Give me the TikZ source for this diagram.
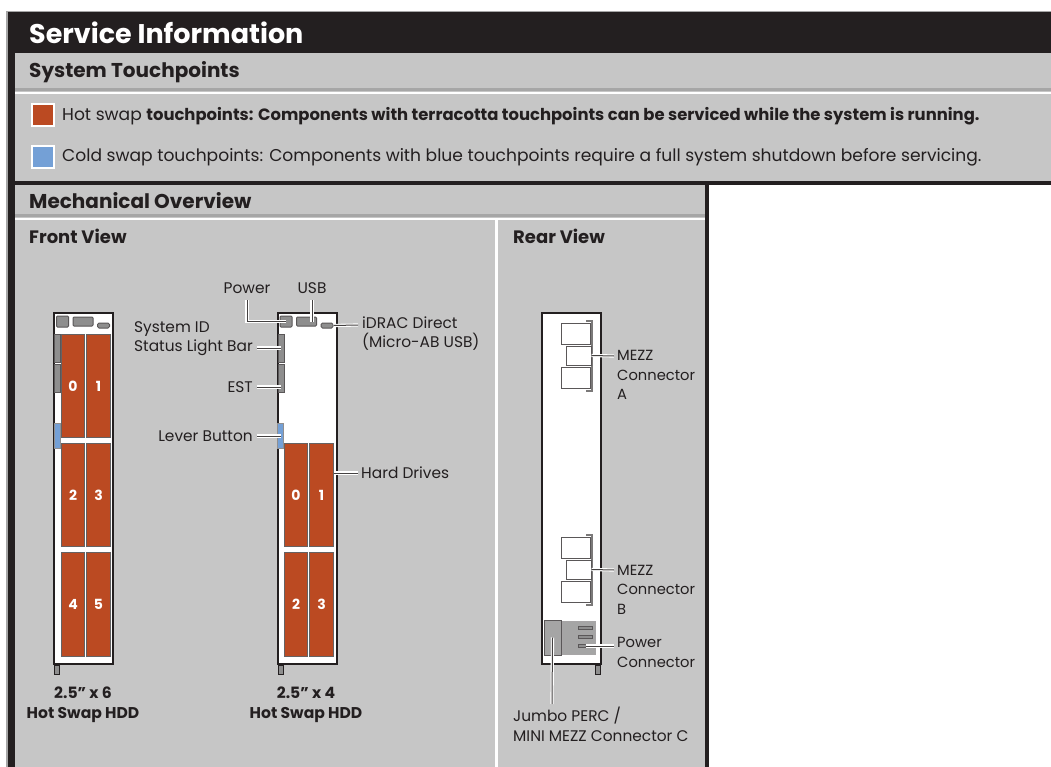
\documentclass[tikz,border=0pt]{standalone}
\usepackage{fontspec}
\setmainfont{Poppins}
\usetikzlibrary{positioning}
\definecolor{cpanel}{HTML}{C6C6C6}
\definecolor{crule}{HTML}{A6A6A6}
\definecolor{cink}{HTML}{231F20}
\definecolor{cterra}{HTML}{BB4A22}
\definecolor{cblue}{HTML}{74A0D6}
\definecolor{cpart}{HTML}{8E8E8E}
\tikzset{
  head/.style={font=\bfseries\fontsize{20}{22}\selectfont, text=cink, anchor=west, inner sep=0pt},
  subhead/.style={head, font=\bfseries\fontsize{18}{20}\selectfont},
  legend/.style={font=\fontsize{17.1}{18}\selectfont, text=cink, anchor=west, inner sep=0pt},
  note/.style={font=\fontsize{15.4}{19.5}\selectfont, text=cink, inner sep=0pt, align=left},
  rearnote/.style={note, font=\fontsize{14.7}{19.5}\selectfont},
  caption/.style={font=\bfseries\fontsize{15.6}{19.5}\selectfont, text=cink, inner sep=0pt, align=center},
  swatch/.style={draw=white, line width=2pt, minimum size=22pt, inner sep=0pt},
  chassis/.style={draw=cink, fill=white, line width=2pt, minimum width=59pt, minimum height=351pt, inner sep=0pt},
  drive/.style={draw=cink!70, fill=cterra, line width=.8pt, minimum width=23.4pt, minimum height=103.5pt, inner sep=0pt, text=white, font=\bfseries\fontsize{14}{14}\selectfont},
  part/.style={draw=cink!75, fill=cpart, line width=1pt, inner sep=0pt},
  lever/.style={draw=cink!50, fill=cblue, line width=1pt, minimum width=6pt, minimum height=25pt, inner sep=0pt},
  slot/.style={draw=cink!75, fill=white, line width=1pt, inner sep=0pt},
  leader/.style={draw=white, double=cink!85, double distance=1pt, line width=1.1pt},
}
\begin{document}
\begin{tikzpicture}[x=1pt, y=-1pt]
  \useasboundingbox (0,0) rectangle (1051,767);
  \fill[white] (0,0) rectangle (1051,767);
  % frame and panels
  \fill[crule] (6,11) rectangle (1051,767);
  \fill[cink] (8,12) rectangle (1051,767);
  \fill[white] (709,185) rectangle (1051,767);
  \fill[cpanel] (15,53) rectangle (1051,181);
  \fill[crule] (15,88) rectangle (1051,91);
  \fill[white] (15,92) rectangle (1051,94);
  \fill[cpanel] (15,185) rectangle (705,767);
  \fill[crule] (15,214) rectangle (705,217);
  \fill[white] (15,218) rectangle (705,220);
  \fill[white] (495,218) rectangle (498,767);
  % headings
  \node[head, text=white, font=\bfseries\fontsize{27}{28}\selectfont] (title) at (29,33) {Service Information};
  \node[head] (touch) at (29,72) {System Touchpoints};
  \node[head] (mech) at (29,201) {Mechanical Overview};
  \node[subhead] (front) at (29,236) {Front View};
  \node[subhead] (rear) at (513,236) {Rear View};
  % legend
  \node[swatch, fill=cterra] (hot) at (42.5,115.5) {};
  \node[legend] (hottext) at (62,116) {Hot swap \bfseries\fontsize{16.4}{18}\selectfont touchpoints: Components with terracotta touchpoints can be serviced while the system is running.};
  \node[swatch, fill=cblue] (cold) at (42.5,157) {};
  \node[legend] (coldtext) at (62,157) {Cold swap touchpoints: Components with blue touchpoints require a full system shutdown before servicing.};
  % two front chassis
  \foreach \n/\x in {a/83.5,b/307} {
    \draw[cink, fill=cpart, line width=1pt] (\x-29,665) rectangle (\x-24,674);
    \node[chassis] (chassis\n) at (\x,488) {};
    \node[part, minimum width=6pt, minimum height=28pt] (bar\n) at (\x-26,348) {};
    \node[part, minimum width=6pt, minimum height=28pt] (est\n) at (\x-26,378) {};
    \node[lever] (lever\n) at (\x-26.5,435.5) {};
    \node[part, minimum width=12pt, minimum height=11pt, rounded corners=1pt] (pwr\n) at (\x-21,321.5) {};
    \node[part, minimum width=20pt, minimum height=9pt, rounded corners=1pt] (usb\n) at (\x-0.5,321.5) {};
    \node[part, minimum width=12pt, minimum height=5pt, rounded corners=1.5pt] (idrac\n) at (\x+20,325.5) {};
  }
  % drives
  \foreach \l/\x/\y in {0/73/386,1/98.5/386,2/73/495,3/98.5/495,4/73/604.5,5/98.5/604.5} {
    \node[drive] (six\l) at (\x,\y) {\l};
  }
  \foreach \l/\x/\y in {0/296/495,1/321.5/495,2/296/604.5,3/321.5/604.5} {
    \node[drive] (four\l) at (\x,\y) {\l};
  }
  % rear chassis
  \draw[cink, fill=cpart, line width=1pt] (595,665) rectangle (600,674);
  \node[chassis] (chassisr) at (571,488) {};
  \foreach \n/\y in {A/0,B/214} {
    \begin{scope}[yshift=-\y pt]
      \draw[cink!60, line width=2pt] (586,320.5) -- (591.5,320.5) -- (591.5,391) -- (586,391);
      \node[slot, minimum width=29pt, minimum height=21pt] (mezz\n top) at (576,333.5) {};
      \node[slot, minimum width=25pt, minimum height=19pt] (mezz\n mid) at (578.5,355.5) {};
      \node[slot, minimum width=29pt, minimum height=21pt] (mezz\n low) at (576,377.5) {};
    \end{scope}
  }
  \node[part, fill=cpart!80, minimum width=33pt, minimum height=33pt, draw=cink!40] (pwrbox) at (578.5,638) {};
  \node[part, fill=cpart!80, minimum width=17pt, minimum height=35pt] (perc) at (552.5,637.5) {};
  \foreach \n/\y in {1/627.5,2/636.5,3/646} {
    \node[part, minimum width=14pt, minimum height=3pt] (slot\n) at (585.5,\y) {};
  }
  % labels
  \node[note, anchor=center] (lblpower) at (247,288) {Power};
  \node[note, anchor=center] (lblusb) at (312,288) {USB};
  \node[note, anchor=east] (lblbar) at (253,338.5) {System ID\\Status Light Bar};
  \node[note, anchor=east] (lblest) at (253,387) {EST};
  \node[note, anchor=east] (lbllever) at (253,436) {Lever Button};
  \node[note, anchor=west] (lblidrac) at (362,333.5) {iDRAC Direct\\(Micro-AB USB)};
  \node[note, anchor=west] (lbldrives) at (361,473) {Hard Drives};
  \node[rearnote, anchor=west] (lblmezza) at (617,375) {MEZZ\\Connector\\A};
  \node[rearnote, anchor=west] (lblmezzb) at (617,589.5) {MEZZ\\Connector\\B};
  \node[rearnote, anchor=west] (lblpwr) at (617,652.5) {Power\\Connector};
  \node[note, anchor=west] (lblperc) at (513,724.5) {Jumbo PERC /\\MINI MEZZ Connector C};
  \node[caption] (capa) at (83,704.5) {2.5” x 6\\Hot Swap HDD};
  \node[caption] (capb) at (306,704.5) {2.5” x 4\\Hot Swap HDD};
  % leaders
  \coordinate (barend) at (257,348);
  \coordinate (estend) at (257,387);
  \coordinate (leverend) at (257,436);
  \coordinate (powerend) at (247,300);
  \coordinate (usbend) at (312,300);
  \coordinate (idracend) at (358,325);
  \coordinate (drivesend) at (358,473);
  \coordinate (mezzaend) at (614,356);
  \coordinate (mezzbend) at (614,570);
  \coordinate (pwrend) at (614,646);
  \coordinate (percend) at (552,704);
  \draw[leader] (powerend) |- (pwrb.center);
  \draw[leader] (usbend) -- (usbend |- usbb.center);
  \draw[leader] (idracb.east) -- (idracend);
  \draw[leader] (barend) -- (barend -| barb.center);
  \draw[leader] (estend) -- (estend -| estb.center);
  \draw[leader] (leverend) -- (leverend -| leverb.center);
  \draw[leader] (four1.east |- drivesend) -- (drivesend);
  \draw[leader] (mezzAmid.east) -- (mezzaend);
  \draw[leader] (mezzBmid.east) -- (mezzbend);
  \draw[leader] (slot3.center) -- (pwrend);
  \draw[leader] (perc.center) -- (percend);
\end{tikzpicture}
\end{document}
